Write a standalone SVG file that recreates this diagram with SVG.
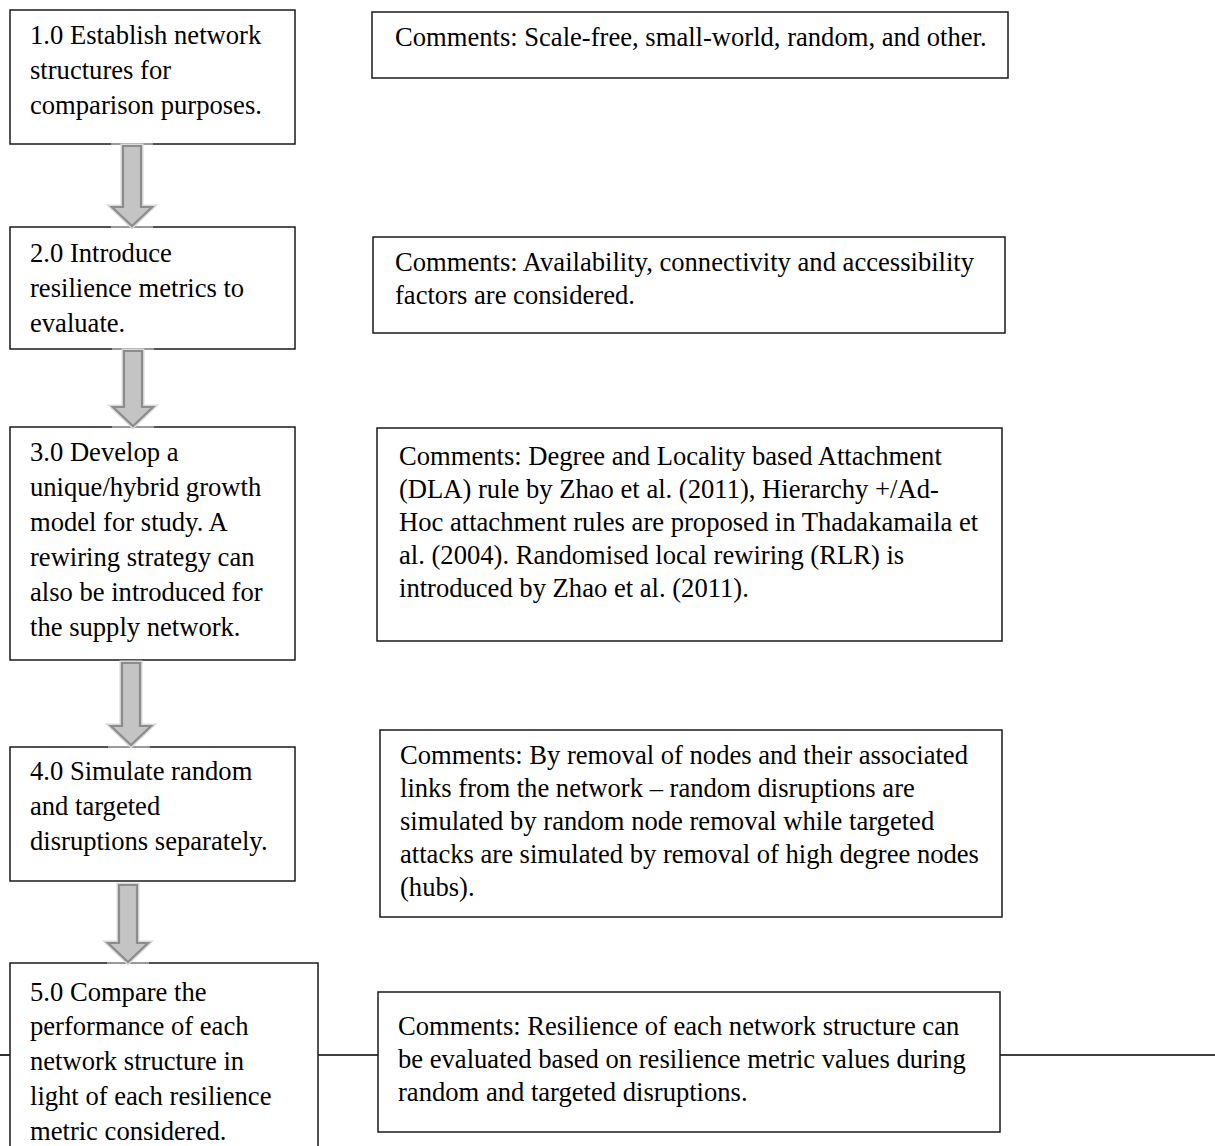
<svg xmlns="http://www.w3.org/2000/svg" width="1215" height="1146" viewBox="0 0 1215 1146">
<defs>
<style>
.box{fill:#fff;stroke:#1a1a1a;stroke-width:1.5}
.t{font-family:"Liberation Serif","Times New Roman",serif;font-size:26.6px;fill:#000}
.halo{fill:none;stroke:#d9d9d9;stroke-width:5;stroke-linejoin:miter}
.arr{fill:#c4c4c4;stroke:#8c8c8c;stroke-width:2.2;stroke-linejoin:miter}
.link{stroke:#000;stroke-width:1.6;fill:none}
.seam{stroke:#9a9a9a;stroke-width:2}
</style>
</defs>
<rect width="1215" height="1146" fill="#fff"/>

<g id="connectors">
<line class="link" x1="0" y1="1055" x2="10" y2="1055"/>
<line class="link" x1="318" y1="1055" x2="378" y2="1055"/>
<line class="link" x1="1000" y1="1055" x2="1215" y2="1055"/>
</g>

<g id="n1">
<rect class="box" x="10" y="10" width="285" height="134"/>
<text class="t" x="30" y="44">1.0 Establish network</text>
<text class="t" x="30" y="79">structures for</text>
<text class="t" x="30" y="114">comparison purposes.</text>
</g>
<g id="c1">
<rect class="box" x="372" y="12" width="636" height="66"/>
<text class="t" x="395" y="46">Comments: Scale-free, small-world, random, and other.</text>
</g>

<g id="n2">
<rect class="box" x="10" y="227" width="285" height="122"/>
<text class="t" x="30" y="262">2.0 Introduce</text>
<text class="t" x="30" y="297">resilience metrics to</text>
<text class="t" x="30" y="332">evaluate.</text>
</g>
<g id="c2">
<rect class="box" x="373" y="237" width="632" height="96"/>
<text class="t" x="395" y="271">Comments: Availability, connectivity and accessibility</text>
<text class="t" x="395" y="304">factors are considered.</text>
</g>

<g id="n3">
<rect class="box" x="10" y="427" width="285" height="233"/>
<text class="t" x="30" y="461">3.0 Develop a</text>
<text class="t" x="30" y="496">unique/hybrid growth</text>
<text class="t" x="30" y="531">model for study. A</text>
<text class="t" x="30" y="566">rewiring strategy can</text>
<text class="t" x="30" y="601">also be introduced for</text>
<text class="t" x="30" y="636">the supply network.</text>
</g>
<g id="c3">
<rect class="box" x="377" y="428" width="625" height="213"/>
<text class="t" x="399" y="465">Comments: Degree and Locality based Attachment</text>
<text class="t" x="399" y="498">(DLA) rule by Zhao et al. (2011), Hierarchy +/Ad-</text>
<text class="t" x="399" y="531">Hoc attachment rules are proposed in Thadakamaila et</text>
<text class="t" x="399" y="564">al. (2004). Randomised local rewiring (RLR) is</text>
<text class="t" x="399" y="597">introduced by Zhao et al. (2011).</text>
</g>

<g id="n4">
<rect class="box" x="10" y="747" width="285" height="134"/>
<text class="t" x="30" y="780">4.0 Simulate random</text>
<text class="t" x="30" y="815">and targeted</text>
<text class="t" x="30" y="850">disruptions separately.</text>
</g>
<g id="c4">
<rect class="box" x="380" y="730" width="622" height="187"/>
<text class="t" x="400" y="764">Comments: By removal of nodes and their associated</text>
<text class="t" x="400" y="797">links from the network – random disruptions are</text>
<text class="t" x="400" y="830">simulated by random node removal while targeted</text>
<text class="t" x="400" y="863">attacks are simulated by removal of high degree nodes</text>
<text class="t" x="400" y="896">(hubs).</text>
</g>

<g id="n5">
<rect class="box" x="10" y="963" width="308" height="200"/>
<text class="t" x="30" y="1001">5.0 Compare the</text>
<text class="t" x="30" y="1035">performance of each</text>
<text class="t" x="30" y="1070">network structure in</text>
<text class="t" x="30" y="1105">light of each resilience</text>
<text class="t" x="30" y="1140">metric considered.</text>
</g>
<g id="c5">
<rect class="box" x="378" y="992" width="622" height="140"/>
<text class="t" x="398" y="1035">Comments: Resilience of each network structure can</text>
<text class="t" x="398" y="1068">be evaluated based on resilience metric values during</text>
<text class="t" x="398" y="1101">random and targeted disruptions.</text>
</g>

<g id="arrows">
<g id="a1">
<line class="seam" x1="111" y1="144" x2="153" y2="144"/>
<line class="seam" x1="111" y1="227" x2="153" y2="227"/>
<path class="halo" d="M123,146 H141 V207 H152 L132,226 L112,207 H123 Z"/>
<path class="arr" d="M123,146 H141 V207 H152 L132,226 L112,207 H123 Z"/>
</g>
<g id="a2">
<line class="seam" x1="112" y1="349" x2="154" y2="349"/>
<line class="seam" x1="112" y1="427" x2="154" y2="427"/>
<path class="halo" d="M124,351 H142 V407 H153 L133,426 L113,407 H124 Z"/>
<path class="arr" d="M124,351 H142 V407 H153 L133,426 L113,407 H124 Z"/>
</g>
<g id="a3">
<line class="seam" x1="108" y1="747" x2="150" y2="747"/>
<path class="halo" d="M122,663 H140 V726 H151 L131,745 L111,726 H122 Z"/>
<path class="arr" d="M122,663 H140 V726 H151 L131,745 L111,726 H122 Z"/>
</g>
<g id="a4">
<line class="seam" x1="107" y1="963" x2="149" y2="963"/>
<path class="halo" d="M119,885 H137 V943 H148 L128,962 L108,943 H119 Z"/>
<path class="arr" d="M119,885 H137 V943 H148 L128,962 L108,943 H119 Z"/>
</g>
</g>
</svg>
